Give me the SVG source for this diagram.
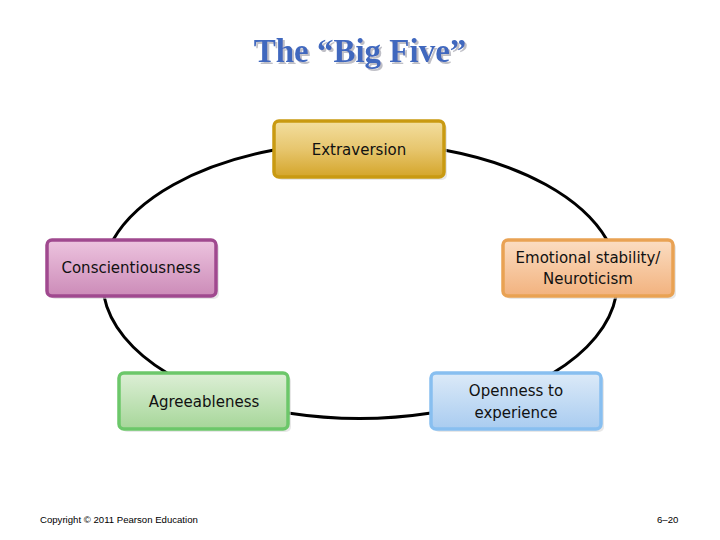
<svg xmlns="http://www.w3.org/2000/svg" width="720" height="540" viewBox="0 0 720 540">
<defs>
<linearGradient id="gExt" x1="0" y1="0" x2="0" y2="1"><stop offset="0" stop-color="#F3DFA0"/><stop offset="0.5" stop-color="#E7C66E"/><stop offset="1" stop-color="#D4A52A"/></linearGradient>
<linearGradient id="gCon" x1="0" y1="0" x2="0" y2="1"><stop offset="0" stop-color="#EDC4DF"/><stop offset="1" stop-color="#CC8BB8"/></linearGradient>
<linearGradient id="gEmo" x1="0" y1="0" x2="0" y2="1"><stop offset="0" stop-color="#FBDDC2"/><stop offset="1" stop-color="#F2B27E"/></linearGradient>
<linearGradient id="gAgr" x1="0" y1="0" x2="0" y2="1"><stop offset="0" stop-color="#DDEFD6"/><stop offset="1" stop-color="#A6D699"/></linearGradient>
<linearGradient id="gOpe" x1="0" y1="0" x2="0" y2="1"><stop offset="0" stop-color="#DCEAF8"/><stop offset="1" stop-color="#A9CCF0"/></linearGradient>
<filter id="tsh" x="-10%" y="-30%" width="120%" height="160%"><feDropShadow dx="2" dy="2" stdDeviation="0.6" flood-color="#B8B8C0" flood-opacity="0.9"/></filter>
</defs>
<style>
.box{stroke-width:3.5}
.sh{fill:#D8D8D8;opacity:0.6}
.lbl{font-family:"DejaVu Sans","Liberation Sans",sans-serif;font-size:15px;fill:#111;text-anchor:middle}
.arc{fill:none;stroke:#000;stroke-width:3}
.title{font-family:"Liberation Serif","DejaVu Serif",serif;font-weight:bold;font-size:33px;fill:#3F67BE;text-anchor:middle}
.foot{font-family:"Liberation Sans",Arial,sans-serif;font-size:9.6px;fill:#000}
</style>
<rect width="720" height="540" fill="#fff"/>
<g id="title">
<text class="title" x="360" y="62" filter="url(#tsh)">The “Big Five”</text>
</g>
<g id="connectors">
<path class="arc" d="M113,240 A258,138 0 0 1 274,150"/>
<path class="arc" d="M444,150 A258,138 0 0 1 607,240"/>
<path class="arc" d="M616,296 A258,138 0 0 1 553,373"/>
<path class="arc" d="M431,413 A258,138 0 0 1 288,413"/>
<path class="arc" d="M167,373 A258,138 0 0 1 104,296"/>
</g>
<g id="extraversion">
<rect class="sh" x="277" y="124" width="170" height="56" rx="5"/>
<rect class="box" x="274" y="121" width="170" height="56" rx="5" fill="url(#gExt)" stroke="#C99A12"/>
<text class="lbl" x="359" y="155">Extraversion</text>
</g>
<g id="conscientiousness">
<rect class="sh" x="50" y="243" width="169" height="56" rx="5"/>
<rect class="box" x="47" y="240" width="169" height="56" rx="5" fill="url(#gCon)" stroke="#A0498F"/>
<text class="lbl" x="131" y="273">Conscientiousness</text>
</g>
<g id="emotional">
<rect class="sh" x="506" y="243" width="170" height="56" rx="5"/>
<rect class="box" x="503" y="240" width="170" height="56" rx="5" fill="url(#gEmo)" stroke="#E9A253"/>
<text class="lbl" x="588" y="263">Emotional stability/</text>
<text class="lbl" x="588" y="284">Neuroticism</text>
</g>
<g id="agreeableness">
<rect class="sh" x="122" y="376" width="169" height="56" rx="5"/>
<rect class="box" x="119" y="373" width="169" height="56" rx="5" fill="url(#gAgr)" stroke="#6CC76A"/>
<text class="lbl" x="204" y="407">Agreeableness</text>
</g>
<g id="openness">
<rect class="sh" x="434" y="376" width="170" height="56" rx="5"/>
<rect class="box" x="431" y="373" width="170" height="56" rx="5" fill="url(#gOpe)" stroke="#88BFF0"/>
<text class="lbl" x="516" y="396">Openness to</text>
<text class="lbl" x="516" y="418">experience</text>
</g>
<g id="footer">
<text class="foot" x="40" y="523">Copyright © 2011 Pearson Education</text>
<text class="foot" x="657" y="523">6–20</text>
</g>
</svg>
